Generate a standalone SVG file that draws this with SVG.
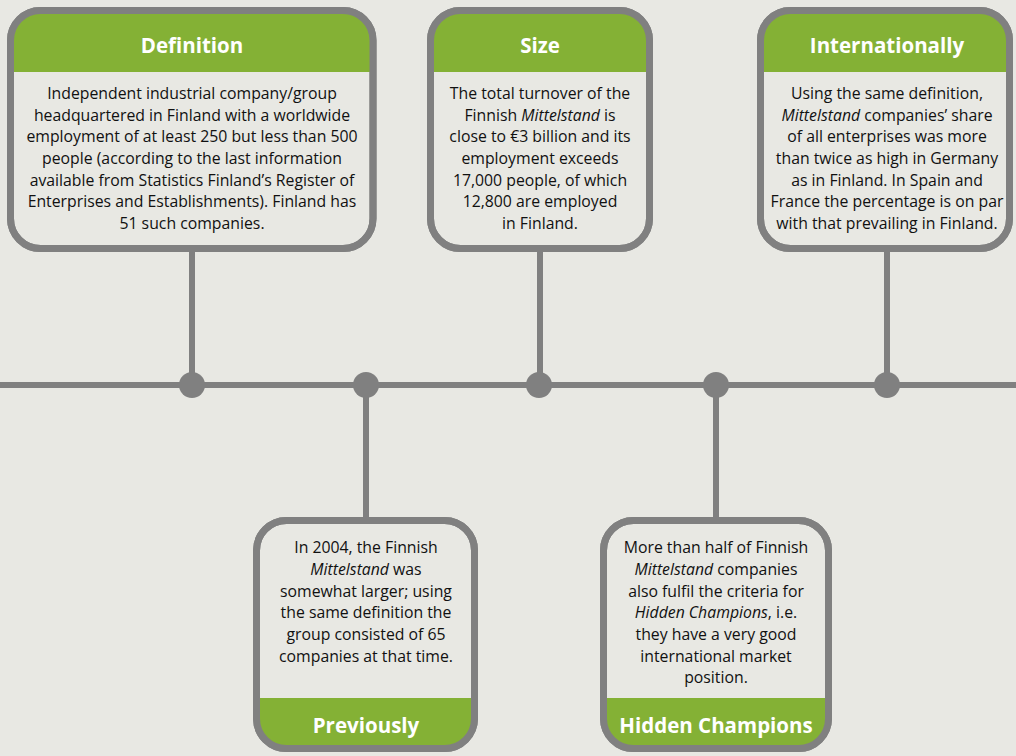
<svg xmlns="http://www.w3.org/2000/svg" width="1016" height="756" viewBox="0 0 1016 756">
<style>
.box{fill:#e8e8e3;stroke:#808080;stroke-width:7}
.frame{fill:none;stroke:#808080;stroke-width:7}
.hdr{fill:#84b135}
.ht{font-family:"Open Sans",sans-serif;font-weight:bold;font-size:20.5px;fill:#fff;text-anchor:middle}
.bt{font-family:"Open Sans",sans-serif;font-size:15.8px;fill:#111;text-anchor:middle}
.line{stroke:#808080;stroke-width:6;fill:none}
.dot{fill:#808080}
</style>
<defs>
<clipPath id="c1"><rect x="10.5" y="10.5" width="362.5" height="238" rx="30"/></clipPath>
<clipPath id="c2"><rect x="430.5" y="10.5" width="219" height="238" rx="30"/></clipPath>
<clipPath id="c3"><rect x="760.5" y="10.5" width="249" height="238" rx="30"/></clipPath>
<clipPath id="c4"><rect x="256.5" y="520.5" width="218" height="228" rx="30"/></clipPath>
<clipPath id="c5"><rect x="603.5" y="520.5" width="225" height="228" rx="30"/></clipPath>
</defs>
<rect width="1016" height="756" fill="#e8e8e3"/>
<g id="connectors">
<line class="line" x1="0" y1="385" x2="1016" y2="385"/>
<line class="line" x1="192" y1="248" x2="192" y2="385"/>
<line class="line" x1="540" y1="248" x2="540" y2="385"/>
<line class="line" x1="887" y1="248" x2="887" y2="385"/>
<line class="line" x1="366" y1="385" x2="366" y2="520"/>
<line class="line" x1="716" y1="385" x2="716" y2="520"/>
<circle class="dot" cx="192" cy="385" r="13"/>
<circle class="dot" cx="366" cy="385" r="13"/>
<circle class="dot" cx="539" cy="385" r="13"/>
<circle class="dot" cx="716" cy="385" r="13"/>
<circle class="dot" cx="887" cy="385" r="13"/>
</g>
<g id="definition">
<rect class="box" x="10.5" y="10.5" width="362.5" height="238" rx="30"/>
<rect class="hdr" x="0" y="0" width="400" height="72" clip-path="url(#c1)"/>
<rect class="frame" x="10.5" y="10.5" width="362.5" height="238" rx="30"/>
<text class="ht" x="192" y="53">Definition</text>
<text class="bt" x="192" y="99">Independent industrial company/group</text>
<text class="bt" x="192" y="121">headquartered in Finland with a worldwide</text>
<text class="bt" x="192" y="142">employment of at least 250 but less than 500</text>
<text class="bt" x="192" y="164">people (according to the last information</text>
<text class="bt" x="192" y="186">available from Statistics Finland’s Register of</text>
<text class="bt" x="192" y="207">Enterprises and Establishments). Finland has</text>
<text class="bt" x="192" y="229">51 such companies.</text>
</g>
<g id="size">
<rect class="box" x="430.5" y="10.5" width="219" height="238" rx="30"/>
<rect class="hdr" x="420" y="0" width="240" height="72" clip-path="url(#c2)"/>
<rect class="frame" x="430.5" y="10.5" width="219" height="238" rx="30"/>
<text class="ht" x="540" y="53">Size</text>
<text class="bt" x="540" y="99">The total turnover of the</text>
<text class="bt" x="540" y="121">Finnish <tspan font-style="italic">Mittelstand</tspan> is</text>
<text class="bt" x="540" y="142">close to €3 billion and its</text>
<text class="bt" x="540" y="164">employment exceeds</text>
<text class="bt" x="540" y="186">17,000 people, of which</text>
<text class="bt" x="540" y="207">12,800 are employed</text>
<text class="bt" x="540" y="229">in Finland.</text>
</g>
<g id="internationally">
<rect class="box" x="760.5" y="10.5" width="249" height="238" rx="30"/>
<rect class="hdr" x="750" y="0" width="270" height="72" clip-path="url(#c3)"/>
<rect class="frame" x="760.5" y="10.5" width="249" height="238" rx="30"/>
<text class="ht" x="887" y="53">Internationally</text>
<text class="bt" x="887" y="99">Using the same definition,</text>
<text class="bt" x="887" y="121"><tspan font-style="italic">Mittelstand</tspan> companies’ share</text>
<text class="bt" x="887" y="142">of all enterprises was more</text>
<text class="bt" x="887" y="164">than twice as high in Germany</text>
<text class="bt" x="887" y="186">as in Finland. In Spain and</text>
<text class="bt" x="887" y="207">France the percentage is on par</text>
<text class="bt" x="887" y="229">with that prevailing in Finland.</text>
</g>
<g id="previously">
<rect class="box" x="256.5" y="520.5" width="218" height="228" rx="30"/>
<rect class="hdr" x="240" y="698" width="260" height="60" clip-path="url(#c4)"/>
<rect class="frame" x="256.5" y="520.5" width="218" height="228" rx="30"/>
<text class="ht" x="366" y="733">Previously</text>
<text class="bt" x="366" y="553">In 2004, the Finnish</text>
<text class="bt" x="366" y="575"><tspan font-style="italic">Mittelstand</tspan> was</text>
<text class="bt" x="366" y="597">somewhat larger; using</text>
<text class="bt" x="366" y="618">the same definition the</text>
<text class="bt" x="366" y="640">group consisted of 65</text>
<text class="bt" x="366" y="662">companies at that time.</text>
</g>
<g id="hidden-champions">
<rect class="box" x="603.5" y="520.5" width="225" height="228" rx="30"/>
<rect class="hdr" x="590" y="698" width="260" height="60" clip-path="url(#c5)"/>
<rect class="frame" x="603.5" y="520.5" width="225" height="228" rx="30"/>
<text class="ht" x="716" y="733">Hidden Champions</text>
<text class="bt" x="716" y="553">More than half of Finnish</text>
<text class="bt" x="716" y="575"><tspan font-style="italic">Mittelstand</tspan> companies</text>
<text class="bt" x="716" y="597">also fulfil the criteria for</text>
<text class="bt" x="716" y="618"><tspan font-style="italic">Hidden Champions</tspan>, i.e.</text>
<text class="bt" x="716" y="640">they have a very good</text>
<text class="bt" x="716" y="662">international market</text>
<text class="bt" x="716" y="683">position.</text>
</g>
</svg>
